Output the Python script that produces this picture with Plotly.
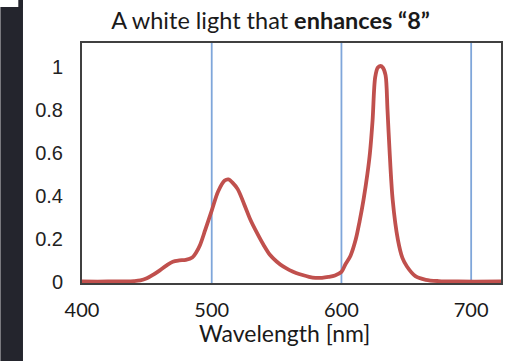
import plotly.graph_objects as go

# Spectrum data
wavelength = [400, 420, 440, 445, 450, 455, 460, 465, 470, 475, 480, 485, 488, 491, 495,
              500, 505, 510, 513, 516, 520, 525, 530, 535, 540, 545, 550, 555, 560, 565,
              570, 575, 580, 585, 590, 595, 600, 603, 607, 611, 614, 617, 620, 622, 624,
              626, 628, 630, 632, 634, 635.5, 637, 639.5, 643.5, 647, 650.5, 657, 665,
              675, 690, 723]
intensity = [0, 0, 0.002, 0.005, 0.015, 0.032, 0.052, 0.074, 0.092, 0.098, 0.101, 0.112, 0.135, 0.17, 0.24,
             0.33, 0.42, 0.47, 0.475, 0.46, 0.43, 0.36, 0.285, 0.225, 0.17, 0.123, 0.093, 0.07, 0.053, 0.04,
             0.03, 0.022, 0.017, 0.017, 0.021, 0.028, 0.045, 0.079, 0.12, 0.195, 0.28, 0.38, 0.5, 0.6, 0.75,
             0.95, 0.995, 1.003, 0.995, 0.96, 0.8, 0.62, 0.38, 0.195, 0.11, 0.07, 0.025, 0.008,
             0.002, 0, 0]
marker_lines = [500, 600, 700]
x_ticks = [400, 500, 600, 700]
y_ticks = [0, 0.2, 0.4, 0.6, 0.8, 1]
y_ticktext = ["0", "0.2", "0.4", "0.6", "0.8", "1"]

W, H = 510, 361
L, R, T, B = 82, 7, 43, 78
pw, ph = W - L - R, H - T - B

def px_x(p):
    return (p - L) / pw

def px_y(p):
    return (H - B - p) / ph

fig = go.Figure()
fig.add_trace(go.Scatter(x=wavelength, y=intensity, mode="lines",
                         line=dict(color="#c0504d", width=3.8, shape="spline", smoothing=0.9),
                         hoverinfo="skip", showlegend=False))

for w in marker_lines:
    fig.add_shape(type="line", xref="x", yref="paper", x0=w, x1=w, y0=0, y1=1,
                  line=dict(color="#7fa6da", width=1.8), layer="below")

# dark strip at the left edge of the picture
fig.add_shape(type="rect", xref="paper", yref="paper",
              x0=px_x(0), x1=px_x(22.7), y0=px_y(361), y1=px_y(7),
              line=dict(width=0), fillcolor="#24252d")
fig.add_shape(type="rect", xref="paper", yref="paper",
              x0=px_x(18), x1=px_x(22.7), y0=px_y(7.5), y1=px_y(0),
              line=dict(width=0), fillcolor="#24252d")

fig.add_annotation(text="Wavelength [nm]", xref="paper", yref="paper",
                   x=px_x(285), y=px_y(333), xanchor="center", yanchor="middle",
                   showarrow=False, font=dict(family="Lato", size=23, color="#1a1a1a"))

fig.update_layout(
    width=W, height=H,
    margin=dict(l=L, r=R, t=T, b=B),
    paper_bgcolor="white", plot_bgcolor="white",
    title=dict(text="A white light that <b>enhances \u201c8\u201d</b>",
               xref="container", yref="container",
               x=270.5 / W, y=1 - 21 / H, xanchor="center", yanchor="middle",
               font=dict(family="Lato", size=23.5, color="#1a1a1a")),
    xaxis=dict(range=[400, 723], tickvals=x_ticks, showgrid=False, zeroline=False,
               showline=True, mirror=True, linecolor="#404040", linewidth=2,
               ticks="", ticklabelstandoff=8,
               tickfont=dict(family="Lato", size=20, color="#1a1a1a")),
    yaxis=dict(range=[-0.007, 1.11], tickvals=y_ticks, ticktext=y_ticktext,
               showgrid=False, zeroline=False,
               showline=True, mirror=True, linecolor="#404040", linewidth=2,
               ticks="", ticklabelstandoff=13,
               tickfont=dict(family="Liberation Sans", size=20, color="#222222")),
)

fig.write_html("out.html")
